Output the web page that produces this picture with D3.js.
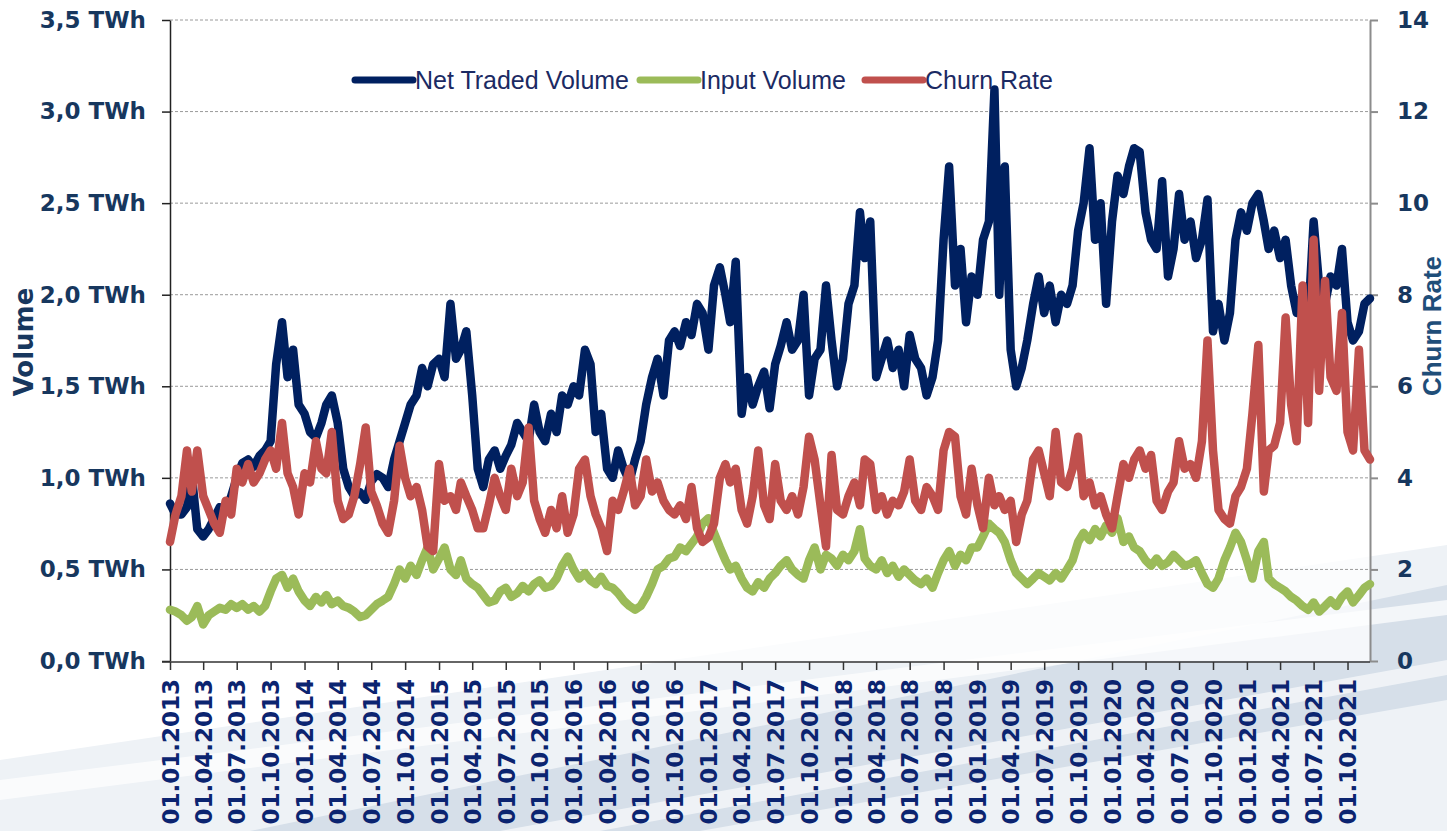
<!DOCTYPE html>
<html>
<head>
<meta charset="utf-8">
<script src="https://cdn.jsdelivr.net/npm/d3@7"></script>
<style>
  body { margin: 0; background: #fff; }
  svg { display: block; }
</style>
</head>
<body>
<svg id="chart" width="1447" height="831"></svg>
<script>
// semi-monthly readings (1st and 16th of each month), Jan 2013 .. Nov 2021, plus 01.12.2021
const netTradedVolume = [
  0.86,0.80, 0.80,0.84, 1.02,0.72, 0.68,0.72, 0.78,0.84, 0.82,0.90,
  1.00,1.08, 1.10,1.06, 1.12,1.15, 1.20,1.62, 1.85,1.55, 1.70,1.40,
  1.35,1.25, 1.22,1.30, 1.40,1.45, 1.30,1.05, 0.95,0.90, 0.92,0.88,
  0.98,1.02, 1.00,0.95, 1.10,1.20, 1.30,1.40, 1.45,1.60, 1.50,1.62,
  1.65,1.55, 1.95,1.65, 1.70,1.80, 1.45,1.05, 0.95,1.10, 1.15,1.05,
  1.12,1.18, 1.30,1.25, 1.20,1.40, 1.25,1.20, 1.35,1.25, 1.45,1.40,
  1.50,1.45, 1.70,1.62, 1.25,1.35, 1.05,1.00, 1.15,1.05, 0.98,1.10,
  1.20,1.40, 1.55,1.65, 1.45,1.75, 1.80,1.72, 1.85,1.78, 1.95,1.90,
  1.70,2.05, 2.15,2.00, 1.85,2.18, 1.35,1.55, 1.40,1.50, 1.58,1.38,
  1.62,1.72, 1.85,1.70, 1.75,2.00, 1.45,1.65, 1.70,2.05, 1.75,1.50,
  1.65,1.95, 2.05,2.45, 2.20,2.40, 1.55,1.65, 1.75,1.60, 1.70,1.50,
  1.78,1.65, 1.60,1.45, 1.55,1.75, 2.30,2.70, 2.05,2.25, 1.85,2.10,
  2.00,2.30, 2.40,3.12, 2.00,2.70, 1.70,1.50, 1.60,1.75, 1.95,2.10,
  1.90,2.05, 1.85,2.00, 1.95,2.05, 2.35,2.50, 2.80,2.30, 2.50,1.95,
  2.40,2.65, 2.55,2.70, 2.80,2.78, 2.45,2.30, 2.25,2.62, 2.10,2.25,
  2.55,2.30, 2.40,2.20, 2.30,2.52, 1.80,1.95, 1.75,1.90, 2.30,2.45,
  2.35,2.50, 2.55,2.40, 2.25,2.35, 2.20,2.30, 2.05,1.90, 2.00,1.85,
  2.40,2.05, 1.95,2.10, 2.05,2.25, 1.85,1.75, 1.80,1.95,
  1.98
];

const inputVolume = [
  0.28,0.27, 0.25,0.22, 0.24,0.30, 0.20,0.25, 0.27,0.29, 0.28,0.31,
  0.29,0.31, 0.28,0.30, 0.27,0.30, 0.38,0.45, 0.47,0.40, 0.45,0.38,
  0.33,0.30, 0.35,0.32, 0.36,0.31, 0.33,0.30, 0.29,0.27, 0.24,0.25,
  0.28,0.31, 0.33,0.35, 0.42,0.50, 0.45,0.52, 0.47,0.55, 0.62,0.50,
  0.56,0.62, 0.50,0.47, 0.55,0.45, 0.42,0.40, 0.36,0.32, 0.33,0.38,
  0.40,0.35, 0.37,0.41, 0.38,0.42, 0.44,0.40, 0.41,0.45, 0.52,0.57,
  0.50,0.45, 0.48,0.44, 0.42,0.46, 0.41,0.40, 0.37,0.33, 0.30,0.28,
  0.30,0.35, 0.42,0.50, 0.52,0.56, 0.57,0.62, 0.60,0.64, 0.68,0.75,
  0.78,0.70, 0.62,0.55, 0.50,0.52, 0.45,0.40, 0.38,0.43, 0.40,0.45,
  0.48,0.52, 0.55,0.50, 0.47,0.45, 0.55,0.62, 0.50,0.58, 0.56,0.52,
  0.58,0.55, 0.60,0.72, 0.56,0.52, 0.50,0.55, 0.48,0.52, 0.46,0.50,
  0.47,0.44, 0.42,0.45, 0.40,0.48, 0.55,0.60, 0.52,0.58, 0.55,0.62,
  0.62,0.68, 0.75,0.72, 0.70,0.65, 0.55,0.48, 0.45,0.42, 0.45,0.48,
  0.46,0.44, 0.48,0.45, 0.50,0.55, 0.65,0.70, 0.66,0.72, 0.68,0.74,
  0.70,0.78, 0.65,0.68, 0.62,0.60, 0.55,0.52, 0.56,0.52, 0.54,0.58,
  0.55,0.52, 0.53,0.55, 0.48,0.42, 0.40,0.45, 0.55,0.62, 0.70,0.65,
  0.55,0.45, 0.60,0.65, 0.45,0.42, 0.40,0.38, 0.35,0.33, 0.30,0.28,
  0.32,0.27, 0.30,0.33, 0.30,0.35, 0.38,0.32, 0.36,0.40,
  0.42
];

const churnRate = [
  2.6,3.2, 3.6,4.6, 3.7,4.6, 3.6,3.3, 3.0,2.8, 3.5,3.2,
  4.2,3.9, 4.3,3.9, 4.1,4.4, 4.6,4.2, 5.2,4.1, 3.8,3.2,
  4.1,3.9, 4.8,4.2, 4.1,5.0, 3.5,3.1, 3.2,3.6, 4.3,5.1,
  3.7,3.4, 3.0,2.8, 3.5,4.7, 4.0,3.6, 3.8,3.3, 2.5,2.4,
  4.3,3.5, 3.6,3.3, 3.9,3.6, 3.3,2.9, 2.9,3.4, 4.0,3.6,
  3.3,4.2, 3.6,3.9, 5.1,3.5, 3.1,2.8, 3.3,2.9, 3.6,2.8,
  3.2,4.2, 4.4,3.6, 3.2,2.9, 2.4,3.5, 3.3,3.7, 4.2,3.4,
  3.6,4.4, 3.7,3.9, 3.5,3.3, 3.2,3.4, 3.1,3.8, 2.9,2.6,
  2.7,3.0, 4.0,4.3, 3.9,4.2, 3.3,3.0, 3.6,4.6, 3.4,3.1,
  4.3,3.5, 3.3,3.6, 3.2,3.8, 4.9,4.4, 3.4,2.5, 4.5,3.3,
  3.2,3.6, 3.9,3.4, 4.4,4.3, 3.3,3.6, 3.2,3.5, 3.4,3.7,
  4.4,3.5, 3.3,3.8, 3.6,3.3, 4.6,5.0, 4.9,3.6, 3.2,4.2,
  3.4,2.9, 4.0,3.4, 3.6,3.3, 3.5,2.6, 3.2,3.5, 4.4,4.6,
  4.1,3.6, 5.0,3.9, 3.8,4.2, 4.9,3.6, 3.9,3.4, 3.6,3.2,
  2.9,3.6, 4.3,4.0, 4.4,4.6, 4.2,4.5, 3.5,3.3, 3.7,3.9,
  4.8,4.2, 4.3,4.0, 4.8,7.0, 4.6,3.3, 3.1,3.0, 3.6,3.8,
  4.2,5.4, 6.9,3.7, 4.6,4.7, 5.2,7.5, 5.6,4.8, 8.2,5.2,
  9.2,5.9, 8.3,6.2, 5.9,7.6, 5.0,4.6, 6.8,4.6,
  4.4
];

const volumeTicks = [0, 0.5, 1.0, 1.5, 2.0, 2.5, 3.0, 3.5];
const churnTicks = [0, 2, 4, 6, 8, 10, 12, 14];
const seriesNames = ['Net Traded Volume', 'Input Volume', 'Churn Rate'];
const seriesColors = ['#002060', '#9bbb59', '#c0504d'];

// reading dates: 1st and 16th of each month
const dates = netTradedVolume.map((_, i) => new Date(2013, Math.floor(i / 2), i % 2 ? 16 : 1));

const svg = d3.select('#chart');
const plotLeft = 170, plotRight = 1370, plotTop = 20, plotBottom = 661;

// soft background swoosh
const bg = svg.append('g');
bg.append('polygon')
  .attr('points', '0,831 0,760 1447,545 1447,831')
  .attr('fill', '#eef2f6');
bg.append('polygon')
  .attr('points', '250,831 1447,585 1447,700 700,831')
  .attr('fill', '#d6dfe9');
bg.append('polygon')
  .attr('points', '0,800 0,780 1447,600 1447,615')
  .attr('fill', '#ffffff').attr('opacity', 0.7);
bg.append('polygon')
  .attr('points', '500,831 1447,660 1447,675 600,831')
  .attr('fill', '#ffffff').attr('opacity', 0.6);

svg.append('rect')
  .attr('x', plotLeft).attr('y', plotTop)
  .attr('width', plotRight - plotLeft).attr('height', plotBottom - plotTop)
  .attr('fill', '#ffffff').attr('opacity', 0.75);

const x = d3.scaleTime()
  .domain([new Date(2013, 0, 1), new Date(2021, 11, 1)])
  .range([plotLeft, plotRight]);
const yVol = d3.scaleLinear().domain([0, 3.5]).range([plotBottom, plotTop]);
const yChurn = d3.scaleLinear().domain([0, 14]).range([plotBottom, plotTop]);

// gridlines
svg.append('g')
  .selectAll('line')
  .data(volumeTicks.slice(1))
  .enter()
  .append('line')
  .attr('x1', plotLeft).attr('x2', plotRight)
  .attr('y1', d => yVol(d)).attr('y2', d => yVol(d))
  .attr('stroke', '#9a9a9a')
  .attr('stroke-dasharray', '3,2');

const fmtVol = d => d3.format('.1f')(d).replace('.', ',') + ' TWh';

const axisL = svg.append('g')
  .attr('transform', `translate(${plotLeft},0)`)
  .call(d3.axisLeft(yVol).tickValues(volumeTicks).tickFormat(fmtVol)
    .tickSizeInner(8).tickSizeOuter(0).tickPadding(16));
axisL.select('.domain').attr('stroke', '#222').attr('stroke-width', 1.5);
axisL.selectAll('.tick line').attr('stroke', '#222').attr('stroke-width', 1.5);
axisL.selectAll('text')
  .attr('font-family', 'DejaVu Sans').attr('font-weight', 'bold')
  .attr('font-size', 23).attr('fill', '#17375e');

const axisR = svg.append('g')
  .attr('transform', `translate(${plotRight},0)`)
  .call(d3.axisRight(yChurn).tickValues(churnTicks)
    .tickSizeInner(8).tickSizeOuter(0).tickPadding(19));
axisR.select('.domain').attr('stroke', '#8c8c8c').attr('stroke-width', 2);
axisR.selectAll('.tick line').attr('stroke', '#8c8c8c').attr('stroke-width', 2);
axisR.selectAll('text')
  .attr('font-family', 'DejaVu Sans').attr('font-weight', 'bold')
  .attr('font-size', 23).attr('fill', '#17375e');

const axisB = svg.append('g')
  .attr('transform', `translate(0,${plotBottom + 1})`)
  .call(d3.axisBottom(x).ticks(d3.timeMonth.every(3))
    .tickFormat(d3.timeFormat('%d.%m.%Y'))
    .tickSizeInner(8).tickSizeOuter(0));
axisB.select('.domain').attr('stroke', '#333').attr('stroke-width', 1.5)
  .attr('d', `M${plotLeft - 8},0H${plotRight}`);
axisB.selectAll('.tick line').attr('stroke', '#333').attr('stroke-width', 1.5);
axisB.selectAll('text')
  .attr('transform', 'rotate(-90)')
  .attr('x', -17).attr('y', 0).attr('dy', '0.36em')
  .attr('text-anchor', 'end')
  .attr('font-family', 'DejaVu Sans').attr('font-weight', 'bold')
  .attr('font-size', 23).attr('fill', '#0b2470');

// axis titles
svg.append('text')
  .attr('transform', 'translate(33,342) rotate(-90)')
  .attr('text-anchor', 'middle')
  .attr('font-family', 'DejaVu Sans').attr('font-weight', 'bold')
  .attr('font-size', 26).attr('fill', '#17375e')
  .text('Volume');
svg.append('text')
  .attr('transform', 'translate(1441,326) rotate(-90)')
  .attr('text-anchor', 'middle')
  .attr('font-family', 'Liberation Sans').attr('font-weight', 'bold')
  .attr('font-size', 26).attr('fill', '#1f4e79')
  .text('Churn Rate');

// series
const lineVol = d3.line().x((d, i) => x(dates[i])).y(d => yVol(d));
const lineChurn = d3.line().x((d, i) => x(dates[i])).y(d => yChurn(d));

const seriesData = [
  { values: netTradedVolume, line: lineVol },
  { values: inputVolume, line: lineVol },
  { values: churnRate, line: lineChurn }
];

svg.append('g')
  .selectAll('path')
  .data(seriesData)
  .enter()
  .append('path')
  .attr('d', s => s.line(s.values))
  .attr('fill', 'none')
  .attr('stroke', (s, i) => seriesColors[i])
  .attr('stroke-width', 8.5)
  .attr('stroke-linejoin', 'round')
  .attr('stroke-linecap', 'round');

// legend
const legendX = [355, 640, 865];
const legend = svg.append('g')
  .selectAll('g')
  .data(seriesNames)
  .enter()
  .append('g')
  .attr('transform', (d, i) => `translate(${legendX[i]},80)`);

legend.append('line')
  .attr('x1', 0).attr('x2', 58)
  .attr('stroke', (d, i) => seriesColors[i])
  .attr('stroke-width', 7)
  .attr('stroke-linecap', 'round');

legend.append('text')
  .attr('x', 60).attr('y', 9)
  .attr('font-family', 'Liberation Sans')
  .attr('font-size', 25)
  .attr('fill', '#1b2a63')
  .text(d => d);
</script>
</body>
</html>
